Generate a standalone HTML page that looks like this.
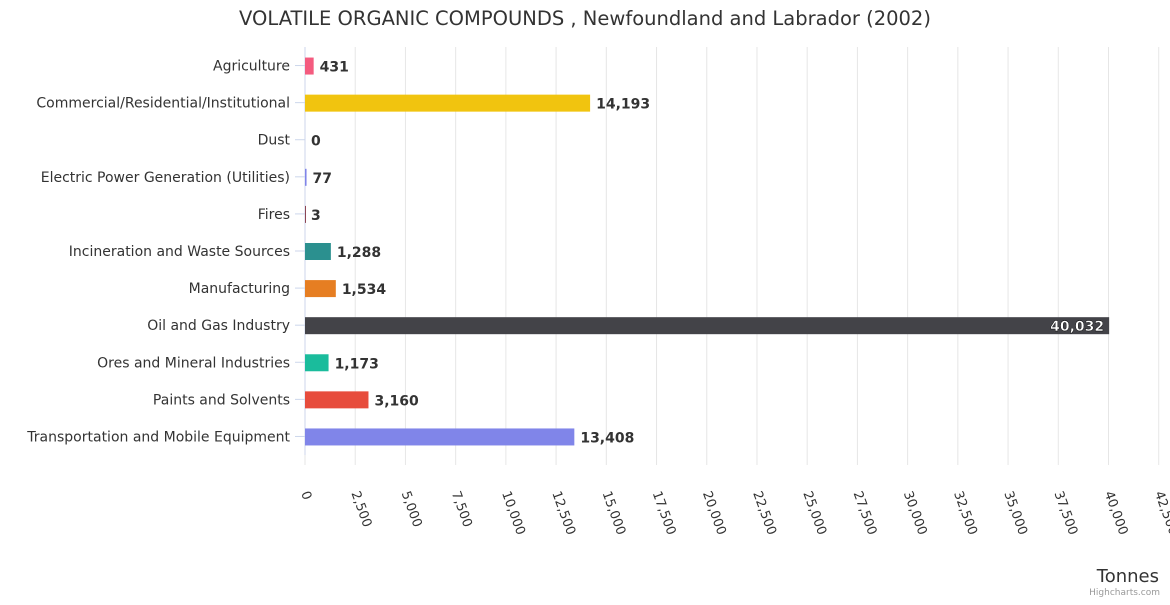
<!DOCTYPE html>
<html><head><meta charset="utf-8"><style>
body{margin:0;background:#fff;font-family:"Liberation Sans","DejaVu Sans",sans-serif}
svg text{font-family:"DejaVu Sans","Liberation Sans",sans-serif}
</style></head><body>
<svg id="c" width="1170" height="600">
<text x="585" y="25" text-anchor="middle" font-size="19.5" fill="#333">VOLATILE ORGANIC COMPOUNDS , Newfoundland and Labrador (2002)</text>
<g id="grid"></g><g id="bars"></g><g id="labels"></g><g id="ticks"></g>
<text x="1159" y="582" text-anchor="end" font-size="18" fill="#333">Tonnes</text>
<text x="1160" y="595" text-anchor="end" font-size="9" fill="#999">Highcharts.com</text>
</svg>
<script>
const categories=["Agriculture","Commercial/Residential/Institutional","Dust","Electric Power Generation (Utilities)","Fires","Incineration and Waste Sources","Manufacturing","Oil and Gas Industry","Ores and Mineral Industries","Paints and Solvents","Transportation and Mobile Equipment"];
const values=[431,14193,0,77,3,1288,1534,40032,1173,3160,13408];
const colors=["#f45b7f","#f1c40f","#2c3e50","#8085e9","#8d4654","#2b908f","#e67e22","#434348","#1abc9c","#e74c3c","#8085e9"];
const tickValues=[0,2500,5000,7500,10000,12500,15000,17500,20000,22500,25000,27500,30000,32500,35000,37500,40000,42500];
const NS="http://www.w3.org/2000/svg";
const X0=305,X1=1108.5,plotTop=47,plotBot=455;
const x=v=>X0+v*(X1-X0)/40000;
const band=(plotBot-plotTop)/categories.length;
const y=i=>plotTop+band*(i+0.5);
function mk(tag,attrs,parent,txt){const e=document.createElementNS(NS,tag);for(const k in attrs)e.setAttribute(k,attrs[k]);if(txt!==undefined)e.textContent=txt;document.getElementById(parent).appendChild(e);return e;}
const fmt=v=>v.toLocaleString("en-US");
tickValues.forEach(t=>{
 const g=mk("line",{x1:x(t),x2:x(t),y1:plotTop,y2:plotBot+10,stroke:"#e6e6e6"},"grid");
 
 
 const tx=x(t)-4,ty=plotBot+38;
 const l=mk("text",{x:tx,y:ty,"font-size":13,fill:"#333",transform:`rotate(70 ${tx} ${ty})`,"text-anchor":"start"},"ticks",fmt(t));
 
 
});
const ax=mk("line",{x1:X0,x2:X0,y1:plotTop,y2:plotBot,stroke:"#ccd6eb"},"grid");


categories.forEach((c,i)=>{
 const cy=y(i);
 const tk=mk("line",{x1:X0-10,x2:X0,y1:cy,y2:cy,stroke:"#ccd6eb"},"grid");
 
 
 const cl=mk("text",{x:290,y:cy+5,"text-anchor":"end","font-size":14,fill:"#333"},"labels",c);
 
 
 const w=Math.max(x(values[i])-X0,values[i]>0?1:0);
 const b=mk("rect",{x:X0,y:cy-8,width:w,height:17,fill:colors[i]},"bars");
 
 
 let vl;
 if(x(values[i])>1000){
  vl=mk("text",{x:x(values[i])-5,y:cy+6,"text-anchor":"end","font-size":14,"font-weight":"bold",fill:"#fff",stroke:"#000","stroke-width":0.4},"labels",fmt(values[i]));
 }else{
  vl=mk("text",{x:x(values[i])+6,y:cy+6,"font-size":14,"font-weight":"bold",fill:"#333"},"labels",fmt(values[i]));
 }
 
 
});
</script>
</body></html>
